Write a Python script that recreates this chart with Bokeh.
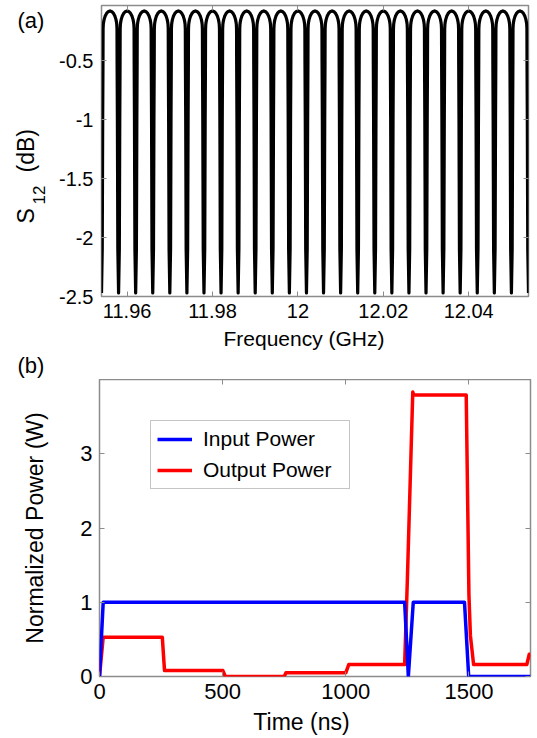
import numpy as np
from bokeh.plotting import figure
from bokeh.models import (FixedTicker, CustomJSTickFormatter, LinearAxis,
                          Legend, LegendItem, Range1d)
from bokeh.core.properties import value
from bokeh.layouts import column, row
from bokeh.embed import file_html
from bokeh.resources import INLINE

FONT = "Liberation Sans"
FRAME = "#8c8c8c"

# ---------------- Panel (a) data ----------------
freq_range = (11.954, 12.054)
s12_range = (-2.5, -0.03)
dip_freqs = [11.954, 11.958, 11.962, 11.966, 11.970, 11.974, 11.978, 11.982,
             11.986, 11.990, 11.994, 11.998, 12.002, 12.006, 12.010, 12.014,
             12.018, 12.022, 12.026, 12.030, 12.034, 12.038, 12.042, 12.046,
             12.050, 12.054]
# one half-period of the response (offset from a dip, GHz)
profile_offset_ghz = [0.0, 0.000175, 0.000233, 0.00028, 0.00035, 0.000362, 0.000373,
                      0.00042, 0.00049, 0.000606, 0.00084, 0.00119, 0.00154, 0.002]
profile_db = [-2.47, -2.1, -1.5, -1.0, -0.5, -0.33, -0.229,
              -0.192, -0.172, -0.150, -0.122, -0.097, -0.083, -0.076]
freq_ticks = [11.96, 11.98, 12.0, 12.02, 12.04]
s12_ticks = [-2.5, -2.0, -1.5, -1.0, -0.5]

# ---------------- Panel (b) data ----------------
time_range = (0, 1750)
power_range = (0, 4)
time_in = [0, 15, 1239, 1254, 1274, 1482, 1499, 1750]
power_in = [0, 1, 1, 0, 1, 1, 0, 0]
time_out = [0, 15, 255, 264, 501, 511, 750, 757, 1000, 1012, 1239, 1250, 1272,
            1276, 1489, 1500, 1506, 1519, 1735, 1745, 1750]
power_out = [0, 0.53, 0.53, 0.08, 0.08, 0.0, 0.0, 0.05, 0.05, 0.16, 0.16, 1.3, 3.83,
             3.79, 3.79, 1.1, 0.55, 0.16, 0.16, 0.3, 0.3]
time_ticks = [0, 500, 1000, 1500]
power_ticks = [0, 1, 2, 3]

# build the S12 trace from the dips and the measured period profile
freq, s12 = [], []
for a, b in zip(dip_freqs[:-1], dip_freqs[1:]):
    for off, db in zip(profile_offset_ghz, profile_db):
        freq.append(a + off)
        s12.append(db)
    for off, db in zip(profile_offset_ghz[-2::-1], profile_db[-2::-1]):
        if off == 0:
            continue
        freq.append(b - off)
        s12.append(db)
freq.append(dip_freqs[-1])
s12.append(profile_db[0])

fmt_code = "return String(Math.round(tick*1000)/1000);"

W = 537
LEFT_W = 56
# vertical bands (page px): row a 0-326, label band 326-379, row b 379-708, label band 708-737
H_A = 326
H_XA = 53
H_B = 329
H_XB = 29
TOP_XA = H_A
TOP_B = H_A + H_XA
TOP_XB = TOP_B + H_B


def style_axis(ax, ticks, fs, show_labels=True, standoff=7):
    ax.ticker = FixedTicker(ticks=ticks)
    ax.formatter = CustomJSTickFormatter(code=fmt_code)
    ax.major_tick_in = 5
    ax.major_tick_out = 0
    ax.minor_tick_in = 0
    ax.minor_tick_out = 0
    ax.major_tick_line_color = FRAME
    ax.major_tick_line_width = 1
    ax.axis_line_color = None
    ax.major_label_text_font = FONT
    ax.major_label_text_color = "black"
    if show_labels:
        ax.major_label_text_font_size = fs
        ax.major_label_standoff = standoff
    else:
        ax.major_label_text_font_size = "0px"
        ax.major_label_standoff = 0


def text_strip(width, height):
    s = figure(width=width, height=height, x_range=Range1d(0, width), y_range=Range1d(0, height),
               output_backend="svg", toolbar_location=None,
               x_axis_location=None, y_axis_location=None,
               min_border_left=0, min_border_right=0, min_border_top=0, min_border_bottom=0)
    s.frame_align = False
    s.xgrid.visible = False
    s.ygrid.visible = False
    s.outline_line_color = None
    return s


def put_text(fig, top, height, x, page_y, txt, fs, angle=0.0, align="left"):
    # (x, page_y) is the middle of the text line, in page pixels
    fig.text(x=[x], y=[height - (page_y - top)], text=[txt], angle=angle, text_align=align,
             text_baseline="middle", text_font=value(FONT),
             text_font_size=value(fs), text_color="black")


# ---------------- Figure (a) ----------------
pa = figure(width=W - LEFT_W, height=H_A, x_range=Range1d(*freq_range), y_range=Range1d(*s12_range),
            output_backend="svg", toolbar_location=None,
            min_border_left=100 - LEFT_W, min_border_right=9, min_border_top=5, min_border_bottom=30)
pa.frame_align = False
pa.xgrid.visible = False
pa.ygrid.visible = False
pa.outline_line_color = FRAME
pa.outline_line_width = 1.5
pa.add_layout(LinearAxis(), "above")
pa.add_layout(LinearAxis(), "right")
style_axis(pa.below[0], freq_ticks, "20px", standoff=7)
style_axis(pa.left[0], s12_ticks, "20px", standoff=8)
style_axis(pa.above[0], freq_ticks, "0px", show_labels=False)
style_axis(pa.right[0], s12_ticks, "0px", show_labels=False)

pa.line(freq, s12, line_color="black", line_width=3.2, line_join="round")

la = text_strip(LEFT_W, H_A)
put_text(la, 0, H_A, 17, 20.4, "(a)", "22px")
put_text(la, 0, H_A, 25, 223, "S", "23px", angle=np.pi / 2)
put_text(la, 0, H_A, 38, 204, "12", "17px", angle=np.pi / 2)
put_text(la, 0, H_A, 25, 172, "(dB)", "23px", angle=np.pi / 2)

xa = text_strip(W, H_XA)
put_text(xa, TOP_XA, H_XA, 303.5, 337.7, "Frequency (GHz)", "21px", align="center")
put_text(xa, TOP_XA, H_XA, 17, 365.4, "(b)", "22px")

# ---------------- Figure (b) ----------------
pb = figure(width=W - LEFT_W, height=H_B, x_range=Range1d(*time_range), y_range=Range1d(*power_range),
            output_backend="svg", toolbar_location=None,
            min_border_left=99 - LEFT_W, min_border_right=7, min_border_top=0, min_border_bottom=32)
pb.frame_align = False
pb.xgrid.visible = False
pb.ygrid.visible = False
pb.outline_line_color = FRAME
pb.outline_line_width = 1.5
pb.add_layout(LinearAxis(), "above")
pb.add_layout(LinearAxis(), "right")
style_axis(pb.below[0], time_ticks, "22px", standoff=7)
style_axis(pb.left[0], power_ticks, "22px", standoff=7)
style_axis(pb.above[0], time_ticks, "0px", show_labels=False)
style_axis(pb.right[0], power_ticks, "0px", show_labels=False)

r_out = pb.line(time_out, power_out, line_color="#ff0000", line_width=3.5, line_join="round")
r_in = pb.line(time_in, power_in, line_color="#0000ff", line_width=3.5, line_join="round")

legend = Legend(items=[LegendItem(label="Input Power", renderers=[r_in]),
                       LegendItem(label="Output Power", renderers=[r_out])],
                location=(51, 187), orientation="vertical")
legend.border_line_color = FRAME
legend.border_line_width = 1.5
legend.background_fill_color = "white"
legend.background_fill_alpha = 1.0
legend.label_text_font = FONT
legend.label_text_font_size = "21px"
legend.label_text_color = "black"
legend.glyph_width = 35
legend.glyph_height = 20
legend.label_height = 20
legend.label_width = 140
legend.label_standoff = 11
legend.spacing = 7
legend.padding = 6
legend.margin = 0
pb.add_layout(legend)

lb = text_strip(LEFT_W, H_B)
put_text(lb, TOP_B, H_B, 34, 527.5, "Normalized Power (W)", "23px", angle=np.pi / 2, align="center")

xb = text_strip(W, H_XB)
put_text(xb, TOP_XB, H_XB, 301, 721.3, "Time (ns)", "23px", align="center")

layout = column(row(la, pa, spacing=0), xa, row(lb, pb, spacing=0), xb, spacing=0)
open("out.html", "w").write(file_html(layout, INLINE))
